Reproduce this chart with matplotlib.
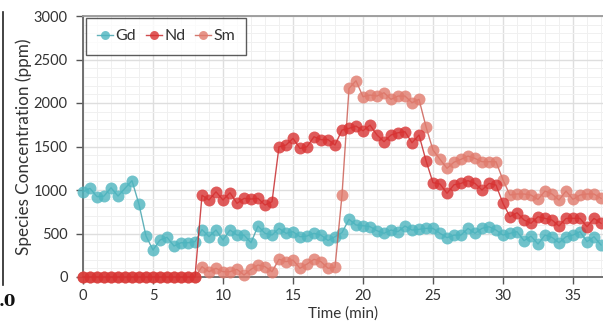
import matplotlib
matplotlib.use("Agg")
import matplotlib.pyplot as plt
import numpy as np
from matplotlib.ticker import MultipleLocator

plt.rcParams['font.family'] = ['Lato', 'DejaVu Sans']

time = [i * 0.5 for i in range(75)]  # 0 .. 37 min

gd = [980, 1019, 923, 930, 1026, 930, 1019, 1107, 835, 471,
      310, 425, 456, 356, 394, 394, 406, 545, 463, 540,
      425, 540, 482, 482, 394, 586, 502, 482, 559, 502,
      521, 463, 471, 502, 482, 420, 463, 510, 663, 598,
      590, 579, 532, 502, 540, 521, 586, 540, 548, 559,
      559, 502, 452, 480, 482, 559, 502, 559, 578, 540,
      482, 502, 521, 417, 470, 379, 482, 456, 394, 463,
      482, 521, 406, 463, 368]

nd = [0] * 17 + [940, 885, 980, 885, 969, 846, 904, 896, 904,
      827, 865, 1497, 1517, 1593, 1478, 1497, 1612, 1578, 1580,
      1517, 1689, 1708, 1735, 1681, 1746, 1632, 1555, 1632, 1658,
      1670, 1543, 1632, 1337, 1084, 1069, 962, 1060, 1076, 1107,
      1076, 1000, 1076, 1057, 846, 693, 739, 655, 617, 693,
      674, 655, 586, 674, 674, 674, 578, 674, 617]

sm = [0] * 17 + [119, 61, 100, 61, 61, 88, 23, 88, 138,
      119, 61, 203, 176, 195, 100, 149, 203, 176, 100,
      111, 942, 2168, 2256, 2072, 2091, 2080, 2118, 2042, 2080,
      2080, 2003, 2042, 1727, 1459, 1352, 1249, 1320, 1352, 1390,
      1363, 1325, 1325, 1325, 1115, 942, 954, 954, 942, 892,
      988, 954, 885, 988, 892, 942, 954, 954, 904]

fig = plt.figure(figsize=(6.03, 3.31), dpi=100)
W, H = 603, 331
ax = fig.add_axes([83 / W, 54 / H, 520 / W, 261 / H])

ax.set_xlim(0, 520 / 14)
ax.set_ylim(0, 3000)
ax.xaxis.set_major_locator(MultipleLocator(5))
ax.xaxis.set_minor_locator(MultipleLocator(1))
ax.yaxis.set_major_locator(MultipleLocator(500))
ax.yaxis.set_minor_locator(MultipleLocator(100))
ax.grid(which='major', color='#dedede', linewidth=1.0, zorder=0)
ax.grid(which='minor', color='#f0f0f0', linewidth=0.7, zorder=0)
ax.set_axisbelow(True)

ms = 8.6
ax.plot(time, gd, '-o', color='#3b9fa9', lw=1.0, ms=ms, mfc='#4db5bf', mec='none',
        alpha=0.8, clip_on=False, zorder=3, label='Gd')
ax.plot(time, sm, '-o', color='#c9564c', lw=1.0, ms=ms, mfc='#e07a6c', mec='none',
        alpha=0.8, clip_on=False, zorder=3, label='Sm')
ax.plot(time, nd, '-o', color='#c41f22', lw=1.0, ms=ms, mfc='#d83232', mec='none',
        alpha=0.8, clip_on=False, zorder=4, label='Nd')

for s in ['left', 'bottom']:
    ax.spines[s].set_color('#666666')
    ax.spines[s].set_linewidth(1.3)
ax.spines['top'].set_color('#999999')
ax.spines['top'].set_linewidth(1.3)
ax.spines['right'].set_visible(False)

ax.tick_params(which='major', direction='out', length=5, width=1, color='#555555',
               labelsize=10.5, labelcolor='#333333', pad=4)
ax.tick_params(which='minor', length=0)
ax.tick_params(axis='y', pad=6)

ax.set_xlabel('Time (min)', fontsize=11, color='#333333', labelpad=2)
ax.set_ylabel('Species Concentration (ppm)', fontsize=12.3, color='#333333', labelpad=1)

handles, labels = ax.get_legend_handles_labels()
order = [labels.index('Gd'), labels.index('Nd'), labels.index('Sm')]
leg = ax.legend([handles[i] for i in order], [labels[i] for i in order],
                ncol=3, loc='upper left', bbox_to_anchor=(3 / 520, 1 - 2 / 261),
                fontsize=11.5, frameon=True, fancybox=False, edgecolor='#333333',
                handlelength=1.0, handletextpad=0.15, columnspacing=0.6,
                markerscale=0.75, borderpad=0.7, borderaxespad=0)
leg.get_frame().set_linewidth(1.0)
for t in leg.get_texts():
    t.set_color('#333333')

# remnant of neighbouring panel at far left
fig.add_artist(plt.Line2D([3 / W, 3 / W], [1 - 12 / H, 1 - 285 / H], color='#222222',
                          lw=1.2, transform=fig.transFigure))
fig.text(-1 / W, 1 - 302 / H, '.0', fontsize=12, fontweight='bold', family='DejaVu Serif',
         ha='left', va='center', color='#111111')

fig.savefig('out.png', dpi=100)
